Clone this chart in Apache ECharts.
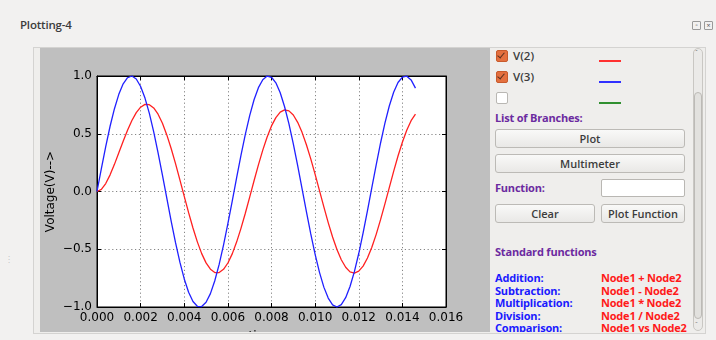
<!DOCTYPE html>
<html><head><meta charset="utf-8">
<script src="https://cdn.jsdelivr.net/npm/echarts@6/dist/echarts.min.js"></script>
<style>
html,body{margin:0;padding:0;width:716px;height:340px;overflow:hidden;background:#f2f1f0;font-family:"Open Sans","Noto Sans",sans-serif;}
.abs{position:absolute;}
#title{left:20px;top:17px;font-size:11.5px;color:#3c3c3c;font-weight:600;letter-spacing:-0.2px;}
#frame{left:33px;top:47px;width:671px;height:285px;border:1px solid #d4d3d1;background:#efeeec;}
#chart{left:40px;top:48px;width:450px;height:284px;overflow:hidden;}
.cb{width:10px;height:10px;border-radius:2px;}
.cb.on{background:#e4703f;border:1px solid #c85a2c;}
.cb.off{background:#fff;border:1px solid #b9b7b3;}
.chk{position:absolute;left:2px;top:0px;width:3px;height:6px;border:solid #5a3020;border-width:0 1.6px 1.6px 0;transform:rotate(40deg);}
.lbl{font-size:11.5px;color:#3c3c3c;font-weight:600;}
.leg{height:2px;width:22px;left:599px;}
.purple{font-size:11px;color:#6b2aa0;font-weight:700;letter-spacing:-0.2px;}
.btn{border:1px solid #bcbab6;border-radius:3px;background:linear-gradient(#f9f9f8,#e9e8e6);font-size:11px;color:#3c3c3c;font-weight:600;text-align:center;box-sizing:border-box;line-height:17px;}
.fb{font-size:11px;color:#1a1aff;font-weight:700;letter-spacing:-0.2px;}
.fr{font-size:11px;color:#ff1a1a;font-weight:700;letter-spacing:-0.2px;}
</style></head>
<body>
<div id="title" class="abs">Plotting-4</div>
<div class="abs" style="left:692px;top:21px;width:7px;height:7px;border:1px solid #9a9a9a;border-radius:1px;font-size:6px;line-height:7px;text-align:center;color:#666;">▫</div>
<div class="abs" style="left:704px;top:21px;width:7px;height:7px;border:1px solid #9a9a9a;border-radius:1px;font-size:7px;line-height:7px;text-align:center;color:#555;">×</div>
<div id="frame" class="abs"></div>
<div class="abs" style="left:8px;top:254px;font-size:8px;color:#b0b0b0;line-height:3px;">·<br>·<br>·</div>
<div id="chart" class="abs"></div>

<div class="abs cb on" style="left:496px;top:50px;"><div class="chk"></div></div>
<div class="abs lbl" style="left:513px;top:48px;">V(2)</div>
<div class="abs leg" style="top:60px;background:#ff3030;"></div>
<div class="abs cb on" style="left:496px;top:71px;"><div class="chk"></div></div>
<div class="abs lbl" style="left:513px;top:69px;">V(3)</div>
<div class="abs leg" style="top:81px;background:#3030ff;"></div>
<div class="abs cb off" style="left:496px;top:92px;"></div>
<div class="abs leg" style="top:102px;background:#309030;"></div>

<div class="abs purple" style="left:495px;top:110px;">List of Branches:</div>
<div class="abs btn" style="left:495px;top:129px;width:190px;height:19px;">Plot</div>
<div class="abs btn" style="left:495px;top:154px;width:190px;height:19px;">Multimeter</div>
<div class="abs purple" style="left:495px;top:180px;">Function:</div>
<div class="abs" style="left:601px;top:179px;width:84px;height:18px;box-sizing:border-box;border:1px solid #b9b7b3;border-radius:2px;background:#fff;"></div>
<div class="abs btn" style="left:495px;top:204px;width:100px;height:19px;">Clear</div>
<div class="abs btn" style="left:601px;top:204px;width:84px;height:19px;">Plot Function</div>
<div class="abs purple" style="left:495px;top:244px;">Standard functions</div>

<div class="abs" style="left:490px;top:268px;width:200px;height:64px;overflow:hidden;">
<div class="abs fb" style="left:5px;top:2px;">Addition:</div>
<div class="abs fr" style="left:111px;top:2px;">Node1 + Node2</div>
<div class="abs fb" style="left:5px;top:15px;">Subtraction:</div>
<div class="abs fr" style="left:111px;top:15px;">Node1 - Node2</div>
<div class="abs fb" style="left:5px;top:27px;">Multiplication:</div>
<div class="abs fr" style="left:111px;top:27px;">Node1 * Node2</div>
<div class="abs fb" style="left:5px;top:40px;">Division:</div>
<div class="abs fr" style="left:111px;top:40px;">Node1 / Node2</div>
<div class="abs fb" style="left:5px;top:52px;">Comparison:</div>
<div class="abs fr" style="left:111px;top:52px;">Node1 vs Node2</div>
</div>

<div class="abs" style="left:693px;top:48px;width:10px;height:283px;box-sizing:border-box;border:1px solid #c9c7c3;border-radius:5px;background:#ebeae8;"></div>
<div class="abs" style="left:694px;top:92px;width:8px;height:227px;box-sizing:border-box;border:1px solid #bcbab6;border-radius:4px;background:#e2e1de;"></div>
<div class="abs" style="left:695px;top:48px;font-size:7px;color:#777;">ˆ</div>
<div class="abs" style="left:695px;top:320px;font-size:7px;color:#777;">ˇ</div>

<script>
const timeS = [0,0.0002,0.0004,0.0006,0.0008,0.0010,0.0012,0.0014,0.0016,0.0018,0.0020,0.0022,0.0024,0.0026,0.0028,0.0030,0.0032,0.0034,0.0036,0.0038,0.0040,0.0042,0.0044,0.0046,0.0048,0.0050,0.0052,0.0054,0.0056,0.0058,0.0060,0.0062,0.0064,0.0066,0.0068,0.0070,0.0072,0.0074,0.0076,0.0078,0.0080,0.0082,0.0084,0.0086,0.0088,0.0090,0.0092,0.0094,0.0096,0.0098,0.0100,0.0102,0.0104,0.0106,0.0108,0.0110,0.0112,0.0114,0.0116,0.0118,0.0120,0.0122,0.0124,0.0126,0.0128,0.0130,0.0132,0.0134,0.0136,0.0138,0.0140,0.0142,0.0144,0.0146];
const v2 = [0,0.019,0.069,0.144,0.235,0.335,0.435,0.531,0.615,0.683,0.730,0.754,0.752,0.723,0.669,0.591,
0.490,0.372,0.241,0.101,-0.042,-0.183,-0.316,-0.436,-0.538,-0.618,-0.673,-0.702,-0.702,-0.674,-0.619,-0.540,
-0.438,-0.319,-0.188,-0.049,0.093,0.230,0.358,0.472,0.568,0.640,0.687,0.707,0.698,0.662,0.599,0.512,
0.405,0.282,0.148,0.007,-0.133,-0.269,-0.394,-0.502,-0.591,-0.656,-0.696,-0.707,-0.690,-0.646,-0.576,
-0.483,-0.371,-0.244,-0.107,0.034,0.174,0.307,0.427,0.531,0.613,0.670];
const v3 = [0,0.199,0.389,0.565,0.717,0.841,0.932,0.985,1.000,0.974,0.909,0.809,0.676,0.516,0.335,0.141,
-0.058,-0.256,-0.443,-0.612,-0.757,-0.872,-0.952,-0.994,-0.996,-0.959,-0.884,-0.773,-0.631,-0.465,-0.279,-0.083,
0.117,0.312,0.494,0.657,0.794,0.899,0.968,0.999,0.989,0.941,0.855,0.734,0.585,0.412,0.223,0.025,
-0.174,-0.367,-0.544,-0.700,-0.828,-0.923,-0.981,-1.000,-0.979,-0.919,-0.823,-0.694,-0.537,-0.358,-0.166,
0.034,0.231,0.420,0.592,0.740,0.859,0.944,0.991,0.998,0.966,0.895];
const xLabel = 'time-->';
const yLabel = 'Voltage(V)-->';

const chart = echarts.init(document.getElementById('chart'), null, {renderer:'canvas'});
const font = 'DejaVu Sans';
const gridLine = {show:true, lineStyle:{color:'#666', width:0.8, type:[1.2,2.6]}};
const tickIn = {show:true, inside:true, length:4, lineStyle:{color:'#000', width:1}};
const axLine = {show:true, onZero:false, lineStyle:{color:'#000'}};
chart.setOption({
  animation:false,
  backgroundColor:'#bfbfbf',
  grid:{left:57, right:44, top:28, bottom:25, containLabel:false, outerBoundsMode:'none', show:true, backgroundColor:'#fff', borderColor:'#000', borderWidth:1},
  xAxis:[{
    type:'value', min:0, max:0.016, interval:0.002, position:'bottom',
    axisLine:axLine, axisTick:tickIn, splitLine:gridLine,
    axisLabel:{color:'#000', fontFamily:font, fontSize:12, margin:5, formatter:v=>v.toFixed(3)},
    name:xLabel, nameLocation:'middle', nameGap:24, nameMoveOverlap:false, nameTextStyle:{color:'#000', fontFamily:font, fontSize:12}
  },{
    type:'value', min:0, max:0.016, interval:0.002, position:'top',
    axisLine:axLine, axisTick:tickIn, axisLabel:{show:false}, splitLine:{show:false}
  }],
  yAxis:[{
    type:'value', min:-1, max:1, interval:0.5, position:'left',
    axisLine:axLine, axisTick:tickIn, splitLine:gridLine,
    axisLabel:{color:'#000', fontFamily:font, fontSize:12, margin:5, formatter:v=>v.toFixed(1).replace('-','\u2212')},
    name:yLabel, nameLocation:'middle', nameGap:40, nameMoveOverlap:false, nameRotate:90, nameTextStyle:{color:'#000', fontFamily:font, fontSize:12}
  },{
    type:'value', min:-1, max:1, interval:0.5, position:'right',
    axisLine:axLine, axisTick:tickIn, axisLabel:{show:false}, splitLine:{show:false}
  }],
  series:[
    {name:'V(2)', type:'line', showSymbol:false, data:timeS.map((t,i)=>[t,v2[i]]), lineStyle:{color:'#ff2020', width:1.3}, itemStyle:{color:'#ff2020'}, clip:false},
    {name:'V(3)', type:'line', showSymbol:false, data:timeS.map((t,i)=>[t,v3[i]]), lineStyle:{color:'#2020ff', width:1.3}, itemStyle:{color:'#2020ff'}, clip:false}
  ]
});
</script>
</body></html>
